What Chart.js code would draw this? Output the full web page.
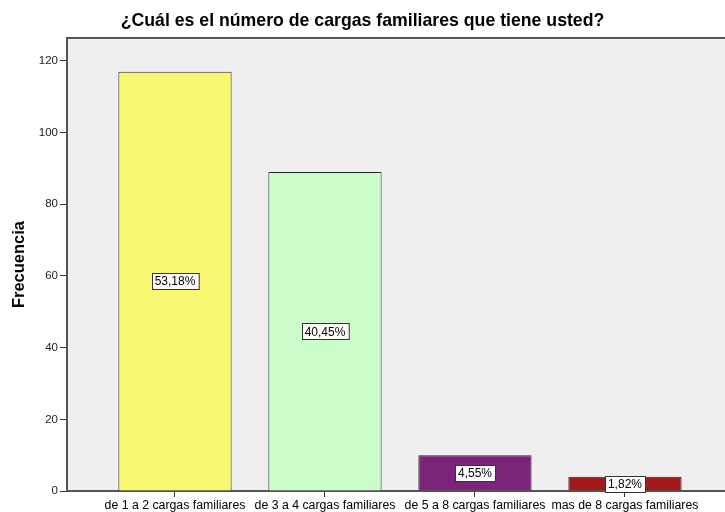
<!DOCTYPE html>
<html>
<head>
<meta charset="utf-8">
<script src="https://cdn.jsdelivr.net/npm/chart.js@4.4.1/dist/chart.umd.min.js"></script>
<style>
  html, body { margin: 0; padding: 0; background: #fff; overflow: hidden; }
  #wrap { width: 725px; height: 512px; }
</style>
</head>
<body>
<div id="wrap"><canvas id="chart"></canvas></div>
<script>
const categories = [
    'de 1 a 2 cargas familiares',
    'de 3 a 4 cargas familiares',
    'de 5 a 8 cargas familiares',
    'mas de 8 cargas familiares'
];
const frecuencia = [117, 89, 10, 4];
const barColors = ['#F9F871', '#CBFDCB', '#7B2479', '#A3191C'];
const yTicks = [0, 20, 40, 60, 80, 100, 120];

const FONT = 'Arial, "Liberation Sans", sans-serif';
const total = frecuencia.reduce((a, b) => a + b, 0);
const pctLabels = frecuencia.map(v => (v / total * 100).toFixed(2).replace('.', ',') + '%');

// light gray plot area with dark frame (like SPSS)
const plotBackground = {
    id: 'plotBackground',
    beforeDraw(chart) {
        const { ctx, chartArea: a } = chart;
        ctx.save();
        ctx.fillStyle = '#EFEFEF';
        ctx.fillRect(a.left, a.top, a.right - a.left, a.bottom - a.top);
        ctx.strokeStyle = '#555';
        ctx.lineWidth = 2;
        ctx.beginPath();
        ctx.moveTo(a.left, a.top);
        ctx.lineTo(a.right, a.top);
        ctx.stroke();
        ctx.restore();
    }
};

// percentage boxes in the middle of each bar
const pctBoxes = {
    id: 'pctBoxes',
    afterDatasetsDraw(chart) {
        const { ctx } = chart;
        const meta = chart.getDatasetMeta(0);
        ctx.save();
        ctx.font = '12px ' + FONT;
        ctx.textAlign = 'center';
        ctx.textBaseline = 'middle';
        meta.data.forEach((bar, i) => {
            const midY = (bar.y + bar.base) / 2;
            const w = ctx.measureText(pctLabels[i]).width + 6;
            const h = 16;
            const x0 = Math.round(bar.x - w / 2) + 0.5;
            const y0 = Math.round(midY - h / 2) + 0.5;
            ctx.fillStyle = '#fff';
            ctx.fillRect(x0, y0, w, h);
            ctx.strokeStyle = '#333';
            ctx.lineWidth = 1;
            ctx.strokeRect(x0, y0, w, h);
            ctx.fillStyle = '#000';
            ctx.fillText(pctLabels[i], bar.x, midY + 1);
        });
        ctx.restore();
    }
};

new Chart(document.getElementById('chart'), {
    type: 'bar',
    data: {
        datasets: [{
            data: frecuencia.map((v, i) => ({ x: i, y: v })),
            backgroundColor: barColors,
            borderColor: '#2a2a2a',
            borderWidth: 1,
            barPercentage: 0.755,
            categoryPercentage: 1
        }]
    },
    options: {
        responsive: true,
        maintainAspectRatio: false,
        animation: false,
        layout: { padding: 0 },
        plugins: {
            legend: { display: false },
            tooltip: { enabled: false },
            title: {
                display: true,
                text: '¿Cuál es el número de cargas familiares que tiene usted?',
                color: '#000',
                font: { family: FONT, size: 17.7, weight: 'bold' },
                padding: { top: 10, bottom: 6.8 }
            }
        },
        scales: {
            x: {
                type: 'linear',
                offset: false,
                min: -0.72,
                max: 3.667,
                afterBuildTicks: scale => {
                    scale.ticks = categories.map((c, i) => ({ value: i }));
                },
                afterFit: scale => { scale.height = 21; },
                ticks: {
                    autoSkip: false,
                    maxRotation: 0,
                    padding: 1,
                    color: '#000',
                    font: { family: FONT, size: 12.3 },
                    callback: v => categories[v]
                },
                grid: {
                    offset: false,
                    drawOnChartArea: false,
                    drawTicks: true,
                    tickLength: 6,
                    color: '#333'
                },
                border: { color: '#555', width: 2 }
            },
            y: {
                min: 0,
                max: 126.4,
                afterBuildTicks: scale => {
                    scale.ticks = yTicks.map(v => ({ value: v }));
                },
                afterFit: scale => { scale.width = 67; },
                ticks: {
                    padding: 2,
                    color: '#222',
                    font: { family: FONT, size: 11.5 }
                },
                grid: {
                    drawOnChartArea: false,
                    drawTicks: true,
                    tickLength: 7,
                    color: '#333'
                },
                border: { color: '#555', width: 2 },
                title: {
                    display: true,
                    text: 'Frecuencia',
                    color: '#000',
                    font: { family: FONT, size: 16.5, weight: 'bold' },
                    padding: { top: 10, bottom: 0 }
                }
            }
        }
    },
    plugins: [plotBackground, pctBoxes]
});
</script>
</body>
</html>
